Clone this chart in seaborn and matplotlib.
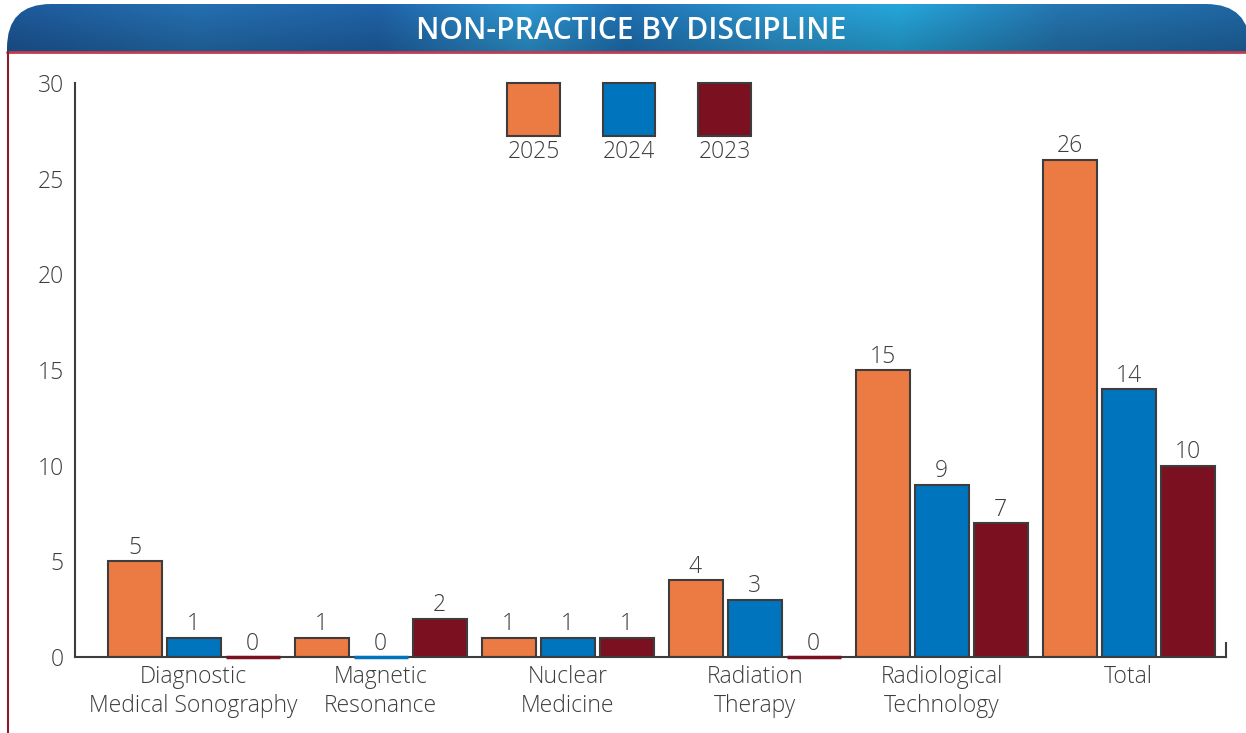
import numpy as np
import pandas as pd
import matplotlib
matplotlib.use("Agg")
import matplotlib.pyplot as plt
import seaborn as sns
from matplotlib.patches import FancyBboxPatch, Rectangle

# --- datos ---
disciplinas = ["Diagnostic\nMedical Sonography", "Magnetic\nResonance", "Nuclear\nMedicine",
               "Radiation\nTherapy", "Radiological\nTechnology", "Total"]
anios = ["2025", "2024", "2023"]
valores_2025 = [5, 1, 1, 4, 15, 26]
valores_2024 = [1, 0, 1, 3, 9, 14]
valores_2023 = [0, 2, 1, 0, 7, 10]
colores = ["#EC7A43", "#0075BE", "#7B1120"]
titulo = "NON-PRACTICE BY DISCIPLINE"

df = pd.DataFrame({
    "disciplina": disciplinas * 3,
    "anio": [a for a in anios for _ in disciplinas],
    "valor": valores_2025 + valores_2024 + valores_2023,
})

sns.set_style("white")
plt.rcParams["font.family"] = ["Open Sans", "DejaVu Sans"]
gris = "#3d3d3d"
fs = 16.5
W, H = 1246, 733
fig = plt.figure(figsize=(W / 100, H / 100), dpi=100)

# --- banda del título ---
bx = fig.add_axes([7 / W, (H - 52) / H, (W - 7) / W, 48 / H])
bx.set_xlim(0, W - 7)
bx.set_ylim(0, 48)
bx.axis("off")
xs = np.linspace(0, 1, 600)
stops_x = [0.0, 0.15, 0.30, 0.42, 0.50, 0.62, 0.72, 0.85, 1.0]
stops_c = np.array([
    [0x1C, 0x55, 0x94], [0x23, 0x6A, 0xA8], [0x1E, 0x5E, 0xA0], [0x2C, 0x90, 0xC8],
    [0x1E, 0x6C, 0xAC], [0x2A, 0x8E, 0xC4], [0x24, 0x9E, 0xD0], [0x23, 0x70, 0xA8],
    [0x1E, 0x62, 0x9C]]) / 255
fila = np.stack([np.interp(xs, stops_x, stops_c[:, k]) for k in range(3)], axis=-1)
sombra = np.linspace(1.05, 0.85, 50)[:, None, None]
img = np.clip(fila[None, :, :] * sombra, 0, 1)
forma = FancyBboxPatch((0, -60), W + 4 - 7, 60 + 48,
                       boxstyle="round,pad=0,rounding_size=44",
                       facecolor="none", edgecolor="none")
bx.add_patch(forma)
im = bx.imshow(img, extent=(0, W - 7, 0, 48), aspect="auto", origin="upper")
im.set_clip_path(forma)
bx.text((631 - 7), 21, titulo, color="white", fontsize=21.5, fontweight="semibold",
        ha="center", va="center")

# líneas de borde
fig.add_artist(plt.Line2D([7 / W, 1], [(H - 52) / H] * 2, color="#C23B4E", lw=2))
fig.add_artist(plt.Line2D([8 / W, 8 / W], [0, (H - 52) / H], color="#8B1A2A", lw=1.5))

# --- gráfico de barras ---
ax = fig.add_axes([75 / W, 76 / H, 1151 / W, 574 / H])
sns.barplot(data=df, x="disciplina", y="valor", hue="anio", hue_order=anios,
            palette=dict(zip(anios, colores)), width=0.947, gap=0.085, saturation=1,
            edgecolor=gris, linewidth=1.5, legend=False, ax=ax)

# las barras en cero se ven como una línea del color de la serie
for p in ax.patches:
    if p.get_height() == 0:
        p.set_edgecolor(p.get_facecolor())
        p.set_linewidth(2.5)
        p.set_zorder(3)
        p.set_clip_on(False)

for c in ax.containers:
    ax.bar_label(c, fmt="%g", padding=1, fontsize=fs, color=gris, fontweight="light")

ax.set_xlim(-0.634, 5.521)
ax.set_ylim(0, 30)
ax.set_yticks([0, 5, 10, 15, 20, 25, 30])
ax.set_xlabel("")
ax.set_ylabel("")
ax.spines["top"].set_visible(False)
for s in ["left", "bottom", "right"]:
    ax.spines[s].set_color(gris)
    ax.spines[s].set_linewidth(1.5)
ax.spines["right"].set_bounds(0, 0.75)
ax.tick_params(axis="y", direction="in", length=20, width=1.2, color=gris,
               labelsize=fs, labelcolor=gris, pad=8)
ax.tick_params(axis="x", length=0, labelsize=fs, labelcolor=gris, pad=6)
for t in ax.get_xticklabels() + ax.get_yticklabels():
    t.set_fontweight("light")
    t.set_linespacing(1.25)

# leyenda: cuadros con el año debajo
for i, (anio, col) in enumerate(zip(anios, colores)):
    x0 = 0.3753 + i * 0.0830
    ax.add_patch(Rectangle((x0, 0.9077), 0.0460, 0.0923, transform=ax.transAxes,
                           facecolor=col, edgecolor=gris, lw=1.5, clip_on=False))
    ax.text(x0 + 0.023, 0.901, anio, transform=ax.transAxes, ha="center", va="top",
            fontsize=fs, color=gris, fontweight="light")

fig.savefig("out.png", dpi=100)
